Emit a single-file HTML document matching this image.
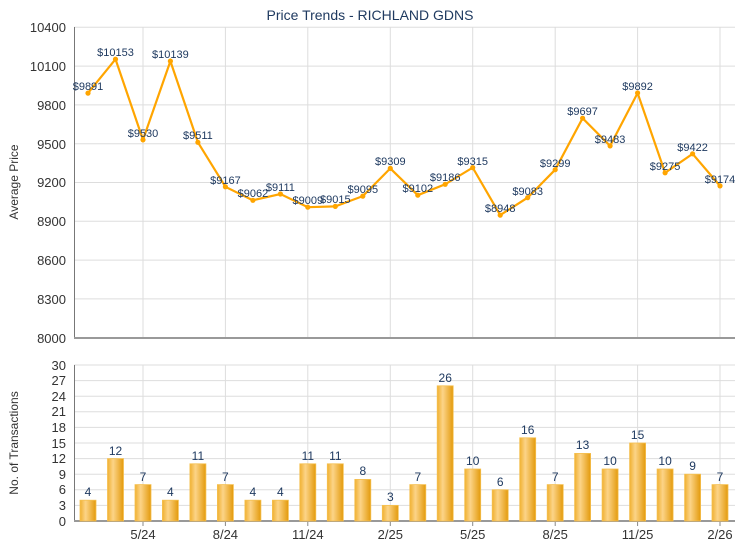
<!DOCTYPE html>
<html><head><style>body{margin:0;background:#fff}svg{display:block;font-family:"Liberation Sans",sans-serif}</style></head><body>
<svg width="740" height="550" xmlns="http://www.w3.org/2000/svg">
<defs><linearGradient id="g" x1="0" x2="1"><stop offset="0" stop-color="#f0b030"/><stop offset="0.35" stop-color="#fcd488"/><stop offset="1" stop-color="#e39a0c"/></linearGradient></defs>
<text x="370" y="20" font-size="14" fill="#1f3a60" text-anchor="middle">Price Trends - RICHLAND GDNS</text>
<g stroke="#ddd">
<line x1="74" x2="735" y1="27.3" y2="27.3"/><line x1="74" x2="735" y1="66.1" y2="66.1"/><line x1="74" x2="735" y1="104.9" y2="104.9"/><line x1="74" x2="735" y1="143.7" y2="143.7"/><line x1="74" x2="735" y1="182.5" y2="182.5"/><line x1="74" x2="735" y1="221.3" y2="221.3"/><line x1="74" x2="735" y1="260.1" y2="260.1"/><line x1="74" x2="735" y1="298.9" y2="298.9"/>
<line x1="74" x2="735" y1="365" y2="365"/><line x1="74" x2="735" y1="380.6" y2="380.6"/><line x1="74" x2="735" y1="396.2" y2="396.2"/><line x1="74" x2="735" y1="411.8" y2="411.8"/><line x1="74" x2="735" y1="427.4" y2="427.4"/><line x1="74" x2="735" y1="443" y2="443"/><line x1="74" x2="735" y1="458.6" y2="458.6"/><line x1="74" x2="735" y1="474.2" y2="474.2"/><line x1="74" x2="735" y1="489.8" y2="489.8"/><line x1="74" x2="735" y1="505.4" y2="505.4"/>
<line x1="143" x2="143" y1="27" y2="338"/><line x1="225.4" x2="225.4" y1="27" y2="338"/><line x1="307.8" x2="307.8" y1="27" y2="338"/><line x1="390.3" x2="390.3" y1="27" y2="338"/><line x1="472.7" x2="472.7" y1="27" y2="338"/><line x1="555.2" x2="555.2" y1="27" y2="338"/><line x1="637.6" x2="637.6" y1="27" y2="338"/><line x1="720" x2="720" y1="27" y2="338"/>
<line x1="143" x2="143" y1="365" y2="521"/><line x1="225.4" x2="225.4" y1="365" y2="521"/><line x1="307.8" x2="307.8" y1="365" y2="521"/><line x1="390.3" x2="390.3" y1="365" y2="521"/><line x1="472.7" x2="472.7" y1="365" y2="521"/><line x1="555.2" x2="555.2" y1="365" y2="521"/><line x1="637.6" x2="637.6" y1="365" y2="521"/><line x1="720" x2="720" y1="365" y2="521"/>
</g>
<g stroke="#888">
<line x1="143" x2="143" y1="521" y2="526"/><line x1="225.4" x2="225.4" y1="521" y2="526"/><line x1="307.8" x2="307.8" y1="521" y2="526"/><line x1="390.3" x2="390.3" y1="521" y2="526"/><line x1="472.7" x2="472.7" y1="521" y2="526"/><line x1="555.2" x2="555.2" y1="521" y2="526"/><line x1="637.6" x2="637.6" y1="521" y2="526"/><line x1="720" x2="720" y1="521" y2="526"/>
</g>
<line x1="74.5" x2="74.5" y1="27" y2="338" stroke="#777"/><line x1="74" x2="735" y1="338" y2="338" stroke="#999" stroke-width="2"/>
<line x1="74.5" x2="74.5" y1="365" y2="521" stroke="#777"/><line x1="74" x2="735" y1="521" y2="521" stroke="#999" stroke-width="2"/>
<g font-size="13" fill="#333" text-anchor="end">
<text x="66" y="32">10400</text><text x="66" y="71">10100</text><text x="66" y="110">9800</text><text x="66" y="149">9500</text><text x="66" y="187">9200</text><text x="66" y="226">8900</text><text x="66" y="265">8600</text><text x="66" y="304">8300</text><text x="66" y="343">8000</text>
<text x="66" y="370">30</text><text x="66" y="385">27</text><text x="66" y="401">24</text><text x="66" y="416">21</text><text x="66" y="432">18</text><text x="66" y="448">15</text><text x="66" y="463">12</text><text x="66" y="479">9</text><text x="66" y="494">6</text><text x="66" y="510">3</text><text x="66" y="526">0</text>
</g>
<g font-size="13" fill="#333" text-anchor="middle">
<text x="143" y="539">5/24</text><text x="225.4" y="539">8/24</text><text x="307.8" y="539">11/24</text><text x="390.3" y="539">2/25</text><text x="472.7" y="539">5/25</text><text x="555.2" y="539">8/25</text><text x="637.6" y="539">11/25</text><text x="720" y="539">2/26</text>
</g>
<text transform="translate(18,182) rotate(-90)" font-size="12" fill="#333" text-anchor="middle">Average Price</text>
<text transform="translate(18,443) rotate(-90)" font-size="12" fill="#333" text-anchor="middle">No. of Transactions</text>
<polyline fill="none" stroke="#ffa500" stroke-width="2.2" points="88,93.1 115.5,59.2 143,139.8 170.4,61.1 197.9,142.3 225.4,186.8 252.9,200.3 280.4,194 307.8,207.2 335.3,206.4 362.8,196.1 390.3,168.4 417.8,195.2 445.2,184.3 472.7,167.6 500.2,215.1 527.7,197.6 555.2,169.7 582.6,118.2 610.1,145.9 637.6,93 665.1,172.8 692.6,153.8 720,185.9"/>
<g fill="#ffa500">
<circle cx="88" cy="93.1" r="2.6"/><circle cx="115.5" cy="59.2" r="2.6"/><circle cx="143" cy="139.8" r="2.6"/><circle cx="170.4" cy="61.1" r="2.6"/><circle cx="197.9" cy="142.3" r="2.6"/><circle cx="225.4" cy="186.8" r="2.6"/><circle cx="252.9" cy="200.3" r="2.6"/><circle cx="280.4" cy="194" r="2.6"/><circle cx="307.8" cy="207.2" r="2.6"/><circle cx="335.3" cy="206.4" r="2.6"/><circle cx="362.8" cy="196.1" r="2.6"/><circle cx="390.3" cy="168.4" r="2.6"/><circle cx="417.8" cy="195.2" r="2.6"/><circle cx="445.2" cy="184.3" r="2.6"/><circle cx="472.7" cy="167.6" r="2.6"/><circle cx="500.2" cy="215.1" r="2.6"/><circle cx="527.7" cy="197.6" r="2.6"/><circle cx="555.2" cy="169.7" r="2.6"/><circle cx="582.6" cy="118.2" r="2.6"/><circle cx="610.1" cy="145.9" r="2.6"/><circle cx="637.6" cy="93" r="2.6"/><circle cx="665.1" cy="172.8" r="2.6"/><circle cx="692.6" cy="153.8" r="2.6"/><circle cx="720" cy="185.9" r="2.6"/>
</g>
<g font-size="11" fill="#1f3a60" text-anchor="middle">
<text x="88" y="90">$9891</text><text x="115.5" y="56">$10153</text><text x="143" y="137">$9530</text><text x="170.4" y="58">$10139</text><text x="197.9" y="139">$9511</text><text x="225.4" y="184">$9167</text><text x="252.9" y="197">$9062</text><text x="280.4" y="191">$9111</text><text x="307.8" y="204">$9009</text><text x="335.3" y="203">$9015</text><text x="362.8" y="193">$9095</text><text x="390.3" y="165">$9309</text><text x="417.8" y="192">$9102</text><text x="445.2" y="181">$9186</text><text x="472.7" y="165">$9315</text><text x="500.2" y="212">$8948</text><text x="527.7" y="195">$9083</text><text x="555.2" y="167">$9299</text><text x="582.6" y="115">$9697</text><text x="610.1" y="143">$9483</text><text x="637.6" y="90">$9892</text><text x="665.1" y="170">$9275</text><text x="692.6" y="151">$9422</text><text x="720" y="183">$9174</text>
</g>
<g fill="url(#g)" stroke="#f5c050" stroke-width="0.8">
<rect x="80" y="500.2" width="16" height="20.8"/><rect x="107.5" y="458.6" width="16" height="62.4"/><rect x="135" y="484.6" width="16" height="36.4"/><rect x="162.4" y="500.2" width="16" height="20.8"/><rect x="189.9" y="463.8" width="16" height="57.2"/><rect x="217.4" y="484.6" width="16" height="36.4"/><rect x="244.9" y="500.2" width="16" height="20.8"/><rect x="272.4" y="500.2" width="16" height="20.8"/><rect x="299.8" y="463.8" width="16" height="57.2"/><rect x="327.3" y="463.8" width="16" height="57.2"/><rect x="354.8" y="479.4" width="16" height="41.6"/><rect x="382.3" y="505.4" width="16" height="15.6"/><rect x="409.8" y="484.6" width="16" height="36.4"/><rect x="437.2" y="385.8" width="16" height="135.2"/><rect x="464.7" y="469" width="16" height="52"/><rect x="492.2" y="489.8" width="16" height="31.2"/><rect x="519.7" y="437.8" width="16" height="83.2"/><rect x="547.2" y="484.6" width="16" height="36.4"/><rect x="574.6" y="453.4" width="16" height="67.6"/><rect x="602.1" y="469" width="16" height="52"/><rect x="629.6" y="443" width="16" height="78"/><rect x="657.1" y="469" width="16" height="52"/><rect x="684.6" y="474.2" width="16" height="46.8"/><rect x="712" y="484.6" width="16" height="36.4"/>
</g>
<g font-size="12" fill="#1f3a60" text-anchor="middle">
<text x="88" y="496">4</text><text x="115.5" y="455">12</text><text x="143" y="481">7</text><text x="170.4" y="496">4</text><text x="197.9" y="460">11</text><text x="225.4" y="481">7</text><text x="252.9" y="496">4</text><text x="280.4" y="496">4</text><text x="307.8" y="460">11</text><text x="335.3" y="460">11</text><text x="362.8" y="475">8</text><text x="390.3" y="501">3</text><text x="417.8" y="481">7</text><text x="445.2" y="382">26</text><text x="472.7" y="465">10</text><text x="500.2" y="486">6</text><text x="527.7" y="434">16</text><text x="555.2" y="481">7</text><text x="582.6" y="449">13</text><text x="610.1" y="465">10</text><text x="637.6" y="439">15</text><text x="665.1" y="465">10</text><text x="692.6" y="470">9</text><text x="720" y="481">7</text>
</g>
</svg>
</body></html>
